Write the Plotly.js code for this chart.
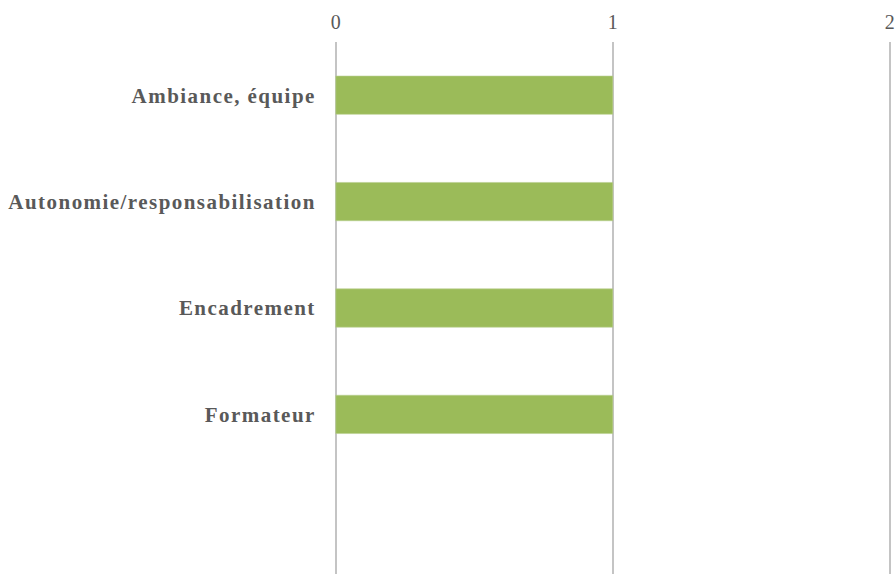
<!DOCTYPE html>
<html>
<head>
<meta charset="utf-8">
<script src="https://cdn.plot.ly/plotly-3.0.1.min.js"></script>
<style>
html,body{margin:0;padding:0;background:#fff;}
#chart{width:895px;height:577px;}
#chart .ytick text{letter-spacing:1.45px;}
</style>
</head>
<body>
<div id="chart"></div>
<script>
const categories = ["Ambiance, équipe", "Autonomie/responsabilisation", "Encadrement", "Formateur"];
const values = [1, 1, 1, 1];
const xTicks = [0, 1, 2];

const trace = {
  type: "bar",
  orientation: "h",
  y: categories,
  x: values,
  marker: {color: "#9BBB59", line: {color: "#B9CE90", width: 0.6}},
  hoverinfo: "x+y"
};

const layout = {
  width: 895, height: 577,
  margin: {l: 333, r: 1, t: 42, b: 3},
  paper_bgcolor: "#ffffff", plot_bgcolor: "#ffffff",
  showlegend: false,
  bargap: 0.64,
  xaxis: {
    side: "top",
    range: [-0.01, 2.015],
    tickvals: xTicks,
    ticktext: xTicks.map(String),
    showgrid: true, gridcolor: "#C4C4C4", gridwidth: 2,
    zeroline: false, showline: false,
    ticks: "outside", ticklen: 4, tickcolor: "rgba(0,0,0,0)",
    tickfont: {family: "Liberation Serif, Times New Roman, serif", size: 20, color: "#595959"}
  },
  yaxis: {
    type: "category",
    categoryorder: "array", categoryarray: categories,
    range: [4.5, -0.5],
    showgrid: false, zeroline: false, showline: false,
    ticks: "outside", ticklen: 12, tickcolor: "rgba(0,0,0,0)",
    tickfont: {family: "Liberation Serif, Times New Roman, serif", size: 21, color: "#595959", weight: "bold"}
  }
};

Plotly.newPlot("chart", [trace], layout, {displayModeBar: false, staticPlot: true});
</script>
</body>
</html>
